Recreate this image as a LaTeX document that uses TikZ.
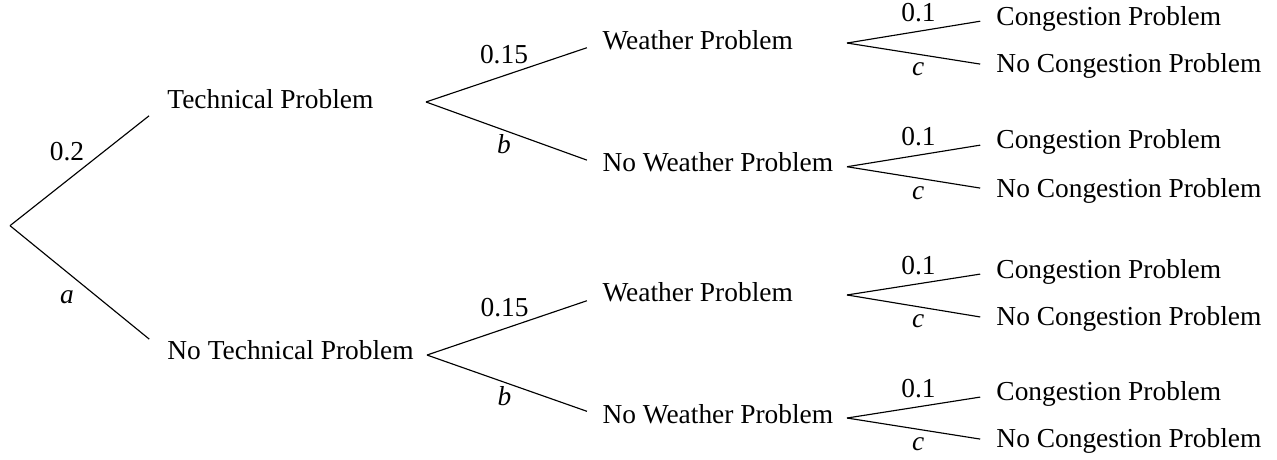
\documentclass[tikz,border=0pt]{standalone}
\usepackage{fontspec}
\setmainfont{Liberation Serif}
\usepackage{tikz}
\usetikzlibrary{positioning}

\begin{document}
\begin{tikzpicture}[
  font=\fontsize{12}{14}\selectfont,
  event/.style={
    anchor=base west, inner sep=0pt,
    text height=8.2pt, text depth=2.6pt
  },
  branch/.style={line width=0.5pt, shorten >=7pt},
  prob/.style={inner sep=0pt}
]
\useasboundingbox (0,0) rectangle (19.646,-7.062);

% forks
\coordinate (root) at (0.154,-3.472);
\coordinate (ftp)  at (6.554,-1.569);
\coordinate (fntp) at (6.569,-5.462);
\coordinate (fw1)  at (13.031,-0.662);
\coordinate (fnw1) at (13.031,-2.565);
\coordinate (fw2)  at (13.031,-4.538);
\coordinate (fnw2) at (13.031,-6.431);

% first stage
\node[event] (tp)  at (2.569,-1.662) {Technical Problem};
\node[event] (ntp) at (2.569,-5.538) {No Technical Problem};

% second stage
\node[event] (wp1)  at (9.262,-0.754) {Weather Problem};
\node[event] (nwp1) at (9.262,-2.646) {No Weather Problem};
\node[event] (wp2)  at (9.262,-4.646) {Weather Problem};
\node[event] (nwp2) at (9.262,-6.508) {No Weather Problem};

% third stage
\node[event] (cp1)  at (15.323,-0.385) {Congestion Problem};
\node[event] (ncp1) at (15.323,-1.123) {No Congestion Problem};
\node[event] (cp2)  at (15.323,-2.292) {Congestion Problem};
\node[event] (ncp2) at (15.323,-3.031) {No Congestion Problem};
\node[event] (cp3)  at (15.323,-4.277) {Congestion Problem};
\node[event] (ncp3) at (15.323,-5.015) {No Congestion Problem};
\node[event] (cp4)  at (15.323,-6.169) {Congestion Problem};
\node[event] (ncp4) at (15.323,-6.892) {No Congestion Problem};

\draw[branch, shorten >=10pt] (root) --
  node[prob, pos=0.363, above=8.5pt] {0.2} (tp.west);
\draw[branch, shorten >=10pt] (root) --
  node[prob, pos=0.363, below=8pt] {\textit{a}} (ntp.west);

\draw[branch] (ftp) --
  node[prob, pos=0.443, above=5pt] {0.15} (wp1.west);
\draw[branch] (ftp) --
  node[prob, pos=0.443, below=1.5pt] {\textit{b}} (nwp1.west);
\draw[branch] (fntp) --
  node[prob, pos=0.443, above=5pt] {0.15} (wp2.west);
\draw[branch] (fntp) --
  node[prob, pos=0.443, below=1.5pt] {\textit{b}} (nwp2.west);

\draw[branch] (fw1) --
  node[prob, pos=0.48, above=3.7pt] {0.1} (cp1.west);
\draw[branch] (fw1) --
  node[prob, pos=0.477, below=3.4pt] {\textit{c}} (ncp1.west);
\draw[branch] (fnw1) --
  node[prob, pos=0.48, above=3.7pt] {0.1} (cp2.west);
\draw[branch] (fnw1) --
  node[prob, pos=0.477, below=3.4pt] {\textit{c}} (ncp2.west);
\draw[branch] (fw2) --
  node[prob, pos=0.48, above=3.7pt] {0.1} (cp3.west);
\draw[branch] (fw2) --
  node[prob, pos=0.477, below=3.4pt] {\textit{c}} (ncp3.west);
\draw[branch] (fnw2) --
  node[prob, pos=0.48, above=3.7pt] {0.1} (cp4.west);
\draw[branch] (fnw2) --
  node[prob, pos=0.477, below=3.4pt] {\textit{c}} (ncp4.west);

\end{tikzpicture}
\end{document}
